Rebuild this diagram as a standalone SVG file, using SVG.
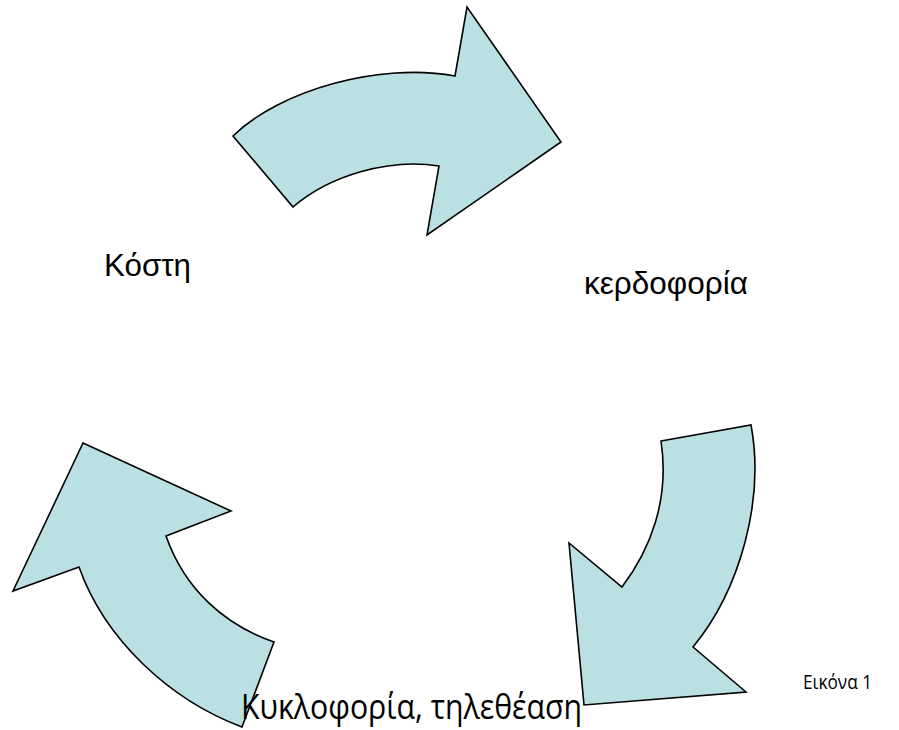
<svg xmlns="http://www.w3.org/2000/svg" width="899" height="730" viewBox="0 0 899 730">
<style>
.arrow{fill:#BAE0E3;stroke:#000;stroke-width:1.6;stroke-linejoin:miter}
.lbl{font-family:"Liberation Sans",Arial,sans-serif;font-size:31px;fill:#000}
.lbl2{font-family:"Open Sans","Noto Sans",sans-serif;fill:#000}
</style>
<rect width="899" height="730" fill="#fff"/>
<g id="connectors">
<path id="arrow-top" class="arrow" d="M233,136 C280,90 380,62 455,76 L467,7 L561,142 L427,235 L439,166 C390,158 330,175 293,207 Z"/>
<path id="arrow-right" class="arrow" d="M661,441 L751,425 C765,500 740,590 693,647 L746,692 L584,705 L569,543 L622,587 C650,550 670,500 661,441 Z"/>
<path id="arrow-left" class="arrow" d="M83,443 L231,511 L166,536 C185,590 225,625 274,642 L242,727 C170,700 105,640 79,567 L13,591 Z"/>
</g>
<g id="node-koste"><text class="lbl" x="104" y="276" textLength="87" lengthAdjust="spacingAndGlyphs">Κόστη</text></g>
<g id="node-kerdoforia"><text class="lbl" x="584" y="294" textLength="164" lengthAdjust="spacingAndGlyphs">κερδοφορία</text></g>
<g id="node-kykloforia"><text class="lbl2" x="241" y="719" font-size="35" textLength="341" lengthAdjust="spacingAndGlyphs">Κυκλοφορία, τηλεθέαση</text></g>
<g id="caption"><text class="lbl2" x="803" y="689" font-size="20" textLength="69" lengthAdjust="spacingAndGlyphs">Εικόνα 1</text></g>
</svg>
